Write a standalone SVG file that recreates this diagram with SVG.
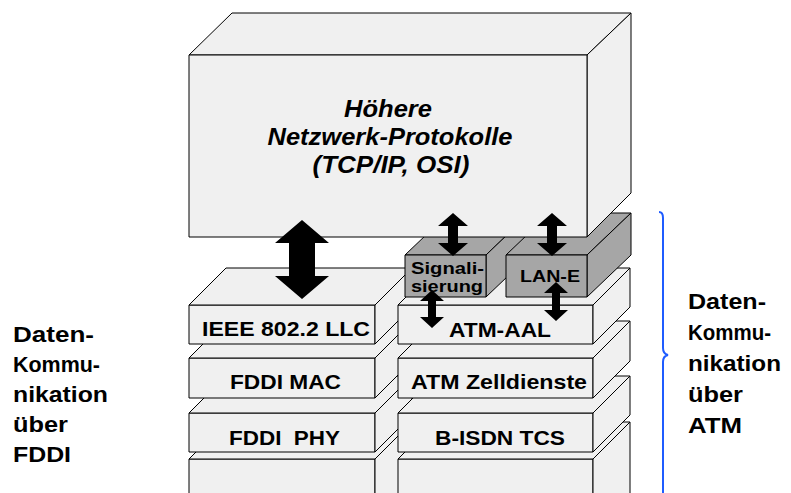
<svg xmlns="http://www.w3.org/2000/svg" width="791" height="493" viewBox="0 0 791 493">
<style>
.lt{fill:#f0f0f0;stroke:#000;stroke-width:1;stroke-linejoin:round}
.dk{fill:#a6a6a6;stroke:#000;stroke-width:1;stroke-linejoin:round}
.ar{fill:#000;stroke:none}
text{font-family:"Liberation Sans",Arial,Helvetica,sans-serif;font-weight:bold;fill:#000}
.box{font-size:21px}
.gr{font-size:17px}
.side{font-size:22px}
.main{font-size:24px;font-style:italic}
</style>
<rect width="791" height="493" fill="#fff"/>

<!-- left column -->
<g id="fddi-bottom">
<rect class="lt" x="189" y="459" width="186" height="50"/>
<polygon class="lt" points="189,459 226,422 412,422 375,459"/>
<polygon class="lt" points="375,459 412,422 412,510 375,510"/>
</g>
<g id="fddi-phy">
<rect class="lt" x="189" y="413" width="186" height="39"/>
<polygon class="lt" points="189,413 226,376 412,376 375,413"/>
<polygon class="lt" points="375,413 412,376 412,415 375,452"/>
<text class="box" x="229" y="445" textLength="111" lengthAdjust="spacingAndGlyphs" xml:space="preserve">FDDI  PHY</text>
</g>
<g id="fddi-mac">
<rect class="lt" x="189" y="358" width="186" height="40"/>
<polygon class="lt" points="189,358 226,321 412,321 375,358"/>
<polygon class="lt" points="375,358 412,321 412,361 375,398"/>
<text class="box" x="230" y="389" textLength="111" lengthAdjust="spacingAndGlyphs">FDDI MAC</text>
</g>
<g id="llc">
<rect class="lt" x="189" y="305" width="186" height="39"/>
<polygon class="lt" points="189,305 226,268 412,268 375,305"/>
<polygon class="lt" points="375,305 412,268 412,307 375,344"/>
<text class="box" x="202" y="336" textLength="168" lengthAdjust="spacingAndGlyphs">IEEE 802.2 LLC</text>
</g>

<!-- right column -->
<g id="atm-bottom">
<rect class="lt" x="398" y="459" width="195" height="50"/>
<polygon class="lt" points="398,459 435,422 630,422 593,459"/>
<polygon class="lt" points="593,459 630,422 630,510 593,510"/>
</g>
<g id="bisdn-tcs">
<rect class="lt" x="398" y="413" width="195" height="39"/>
<polygon class="lt" points="398,413 435,376 630,376 593,413"/>
<polygon class="lt" points="593,413 630,376 630,415 593,452"/>
<text class="box" x="435" y="445" textLength="130" lengthAdjust="spacingAndGlyphs">B-ISDN TCS</text>
</g>
<g id="atm-zell">
<rect class="lt" x="398" y="358" width="195" height="40"/>
<polygon class="lt" points="398,358 435,321 630,321 593,358"/>
<polygon class="lt" points="593,358 630,321 630,361 593,398"/>
<text class="box" x="411" y="389" textLength="176" lengthAdjust="spacingAndGlyphs">ATM Zelldienste</text>
</g>
<g id="atm-aal">
<rect class="lt" x="398" y="305" width="195" height="39"/>
<polygon class="lt" points="398,305 435,268 630,268 593,305"/>
<polygon class="lt" points="593,305 630,268 630,307 593,344"/>
<text class="box" x="449" y="337" textLength="102" lengthAdjust="spacingAndGlyphs">ATM-AAL</text>
</g>

<!-- gray boxes -->
<g id="signalisierung">
<polygon class="dk" points="405,255 449,213 530,213 486,255"/>
<polygon class="dk" points="486,255 530,213 530,255 486,297"/>
<rect class="dk" x="405" y="255" width="81" height="42"/>
<text class="gr" x="411" y="274" textLength="73" lengthAdjust="spacingAndGlyphs">Signali-</text>
<text class="gr" x="411" y="292" textLength="72" lengthAdjust="spacingAndGlyphs">sierung</text>
</g>
<g id="lan-e">
<polygon class="dk" points="506,255 550,213 631,213 587,255"/>
<polygon class="dk" points="587,255 631,213 631,255 587,297"/>
<rect class="dk" x="506" y="255" width="81" height="42"/>
<text class="gr" x="520" y="282" textLength="60" lengthAdjust="spacingAndGlyphs">LAN-E</text>
</g>

<!-- big box -->
<g id="hoehere-protokolle">
<polygon class="lt" points="189,55 232,13 631,13 587,55"/>
<polygon class="lt" points="587,55 631,13 631,193 587,237"/>
<rect class="lt" x="189" y="55" width="398" height="182"/>
<text class="main" x="388" y="117" text-anchor="middle" textLength="88" lengthAdjust="spacingAndGlyphs">Höhere</text>
<text class="main" x="390" y="145" text-anchor="middle" textLength="245" lengthAdjust="spacingAndGlyphs">Netzwerk-Protokolle</text>
<text class="main" x="391" y="173" text-anchor="middle" textLength="157" lengthAdjust="spacingAndGlyphs">(TCP/IP, OSI)</text>
</g>

<!-- connectors -->
<g id="connectors">
<polygon class="ar" points="302,220 329,243 315,243 315,276 329,276 302,299 275,276 289,276 289,243 275,243"/>
<polygon class="ar" points="453,213 468,226 458,226 458,243 468,243 453,256 438,243 448,243 448,226 438,226"/>
<polygon class="ar" points="552,213 567,226 557,226 557,243 567,243 552,256 537,243 547,243 547,226 537,226"/>
<polygon class="ar" points="432,290 444,301 436,301 436,317 444,317 432,328 420,317 428,317 428,301 420,301"/>
<polygon class="ar" points="556,282 568,293 560,293 560,310 568,310 556,321 544,310 552,310 552,293 544,293"/>
<path d="M659,212 Q663,212 663,218 L663,348 Q663,354 668,355 Q663,356 663,362 L663,495" fill="none" stroke="#1f5cff" stroke-width="2"/>
</g>

<!-- side labels -->
<g id="label-fddi">
<text class="side" x="13" y="342" textLength="81" lengthAdjust="spacingAndGlyphs">Daten-</text>
<text class="side" x="13" y="372" textLength="87" lengthAdjust="spacingAndGlyphs">Kommu-</text>
<text class="side" x="13" y="402" textLength="95" lengthAdjust="spacingAndGlyphs">nikation</text>
<text class="side" x="13" y="432" textLength="55" lengthAdjust="spacingAndGlyphs">über</text>
<text class="side" x="13" y="462" textLength="58" lengthAdjust="spacingAndGlyphs">FDDI</text>
</g>
<g id="label-atm">
<text class="side" x="688" y="309" textLength="78" lengthAdjust="spacingAndGlyphs">Daten-</text>
<text class="side" x="688" y="340" textLength="83" lengthAdjust="spacingAndGlyphs">Kommu-</text>
<text class="side" x="688" y="371" textLength="93" lengthAdjust="spacingAndGlyphs">nikation</text>
<text class="side" x="688" y="402" textLength="55" lengthAdjust="spacingAndGlyphs">über</text>
<text class="side" x="688" y="433" textLength="54" lengthAdjust="spacingAndGlyphs">ATM</text>
</g>
</svg>
